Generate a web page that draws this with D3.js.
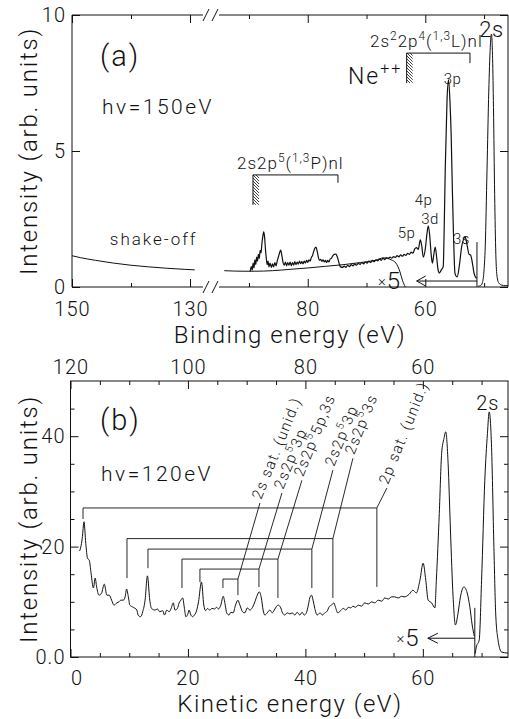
<!DOCTYPE html>
<html>
<head>
<meta charset="utf-8">
<script src="https://cdn.jsdelivr.net/npm/d3@7"></script>
<style>
body{margin:0;background:#fff}
text{font-family:Roboto,"Liberation Sans",Arial,sans-serif;font-weight:300;fill:#111}
</style>
</head>
<body>
<script>
// ---- panel (a) data : binding energy (eV), intensity ----
var shakeOffA=[[150,1.15],[148.6,1.08],[146,0.98],[143,0.88],[140,0.8],[137,0.74],[134,0.69],[131,0.65],[129.2,0.63]]
var backgroundA=[[94.2,0.6],[91,0.58],[89,0.58],[86,0.6],[83,0.65],[80,0.7],[77,0.76],[74,0.82],[71,0.9],[68.5,0.98],[67.1,1.07],[65.8,1.0],[65.0,0.88],[64.3,0.55],[63.9,0.25],[63.4,0.0]]
var satA=[[89.8,0.57],[89.6,0.75],[89.45,0.62],[89.3,0.88],[89.15,0.7],[89.0,1.0],[88.85,0.82],[88.7,1.1],[88.55,0.95],[88.4,1.2],[88.25,1.05],[88.1,1.35],[87.95,1.25],[87.8,1.6],[87.65,1.85],[87.5,2.03],[87.35,1.85],[87.2,1.4],[87.05,1.05],[86.9,0.82],[86.75,0.95],[86.6,0.74],[86.4,0.88],[86.2,0.72],[86.0,0.85],[85.8,0.74],[85.6,0.9],[85.4,0.78],[85.2,0.95],[85.0,1.1],[84.8,1.25],[84.6,1.36],[84.4,1.15],[84.2,0.9],[84.0,0.8],[83.8,0.92],[83.6,0.78],[83.4,0.9],[83.2,0.8],[83.0,0.92],[82.8,0.78],[82.6,0.9],[82.4,0.8],[82.2,0.93],[82.0,0.82],[81.8,0.92],[81.6,0.84],[81.4,0.95],[81.2,0.86],[81.0,0.93],[80.8,0.85],[80.6,0.95],[80.4,0.88],[80.2,0.98],[80.0,0.9],[79.8,1.0],[79.6,0.95],[79.4,1.08],[79.2,1.15],[79.0,1.3],[78.8,1.42],[78.6,1.47],[78.4,1.32],[78.2,1.1],[78.0,0.98],[77.8,1.02],[77.6,0.94],[77.4,1.0],[77.2,0.92],[77.0,0.98],[76.8,0.9],[76.6,0.98],[76.4,0.92],[76.2,1.02],[76.0,1.05],[75.8,1.12],[75.5,1.2],[75.2,1.21],[75.0,1.12],[74.8,0.98],[74.6,0.82],[74.4,0.74],[74.1,0.72],[73.8,0.77],[73.5,0.72],[73.2,0.8],[72.9,0.75],[72.6,0.82],[72.3,0.78],[72.0,0.85],[71.7,0.8],[71.4,0.87],[71.1,0.83],[70.8,0.9],[70.5,0.85],[70.2,0.92],[69.9,0.88],[69.6,0.95],[69.3,0.9],[69.0,0.98],[68.7,0.93],[68.4,1.0],[68.1,0.96],[67.8,1.03],[67.5,0.98],[67.2,1.06],[66.9,1.01],[66.6,1.08],[66.3,1.05],[66.0,1.1],[65.7,1.06],[65.4,1.12],[65.1,1.09],[64.8,1.15],[64.5,1.11],[64.2,1.18],[63.9,1.13],[63.6,1.2],[63.3,1.16],[63.0,1.24],[62.7,1.2],[62.4,1.28],[62.1,1.24],[61.8,1.4],[61.5,1.45],[61.2,1.38],[60.85,1.73],[60.6,1.5],[60.34,1.1],[60.0,1.4],[59.75,1.9],[59.5,2.25],[59.25,1.9],[59.0,1.2],[58.8,0.88],[58.55,1.2],[58.31,1.47],[58.05,1.05],[57.8,0.6],[57.6,0.51],[57.3,0.62],[56.95,0.75],[56.8,2.0],[56.6,4.4],[56.3,6.9],[56.05,7.62],[55.8,6.8],[55.6,5.6],[55.4,3.6],[55.2,1.9],[54.95,0.5],[54.58,0.37],[54.2,0.8],[53.8,1.5],[53.5,1.75],[53.22,1.84],[52.9,1.55],[52.55,1.2],[52.3,1.18],[52.0,0.9],[51.7,0.5],[51.5,0.38],[51.25,0.32]]
var peak2sA=[[51.0,0.03],[50.6,0.05],[50.3,0.15],[50.05,0.5],[49.8,1.5],[49.5,4.3],[49.2,7.2],[48.95,8.8],[48.75,9.3],[48.55,8.4],[48.4,6.6],[48.2,3.4],[48.0,1.2],[47.8,0.4],[47.5,0.15],[47.0,0.07],[46.4,0.05],[45.95,0.05]]
var peakLabelsA=[{t:"2s",e:48.74,v:9.2,fs:22},{t:"3p",e:55.38,v:7.47,fs:15},{t:"4p",e:60.31,v:3.02,fs:15},{t:"3d",e:59.2,v:2.32,fs:15},{t:"5p",e:63.2,v:1.8,fs:15},{t:"3s",e:53.84,v:1.58,fs:15}]
// thresholds with brackets: start, end, level, end tick, hatch bottom, text pos
var seriesA=[
	{lo:89.32,hi:74.86,h:4.12,tick:3.83,hatch:3.02,te:92.04,tv:4.34,label:"2s2p{5}({1,3}P)nl"},
	{lo:63.17,hi:52.4,h:8.6,tick:8.23,hatch:7.5,te:69.41,tv:8.83,label:"2s{2}2p{4}({1,3}L)nl"}
]
var x5A={line:51.21,top:1.65,tip:61.47,v:0.22,text:66.18}

// ---- panel (b) data : kinetic energy (eV), intensity ----
var satB=[[1.55,19.2],[1.75,19.9],[2.0,21.5],[2.3,24.5],[2.6,20.6],[2.9,17.9],[3.2,17.5],[3.5,15.2],[3.9,12.5],[4.2,14.3],[4.45,12.7],[4.85,11.2],[5.3,11.6],[5.75,13.2],[6.2,11.2],[6.6,11.2],[7.0,10.3],[7.4,9.4],[7.9,9.8],[8.25,10.0],[8.6,10.3],[9.0,10.3],[9.3,10.9],[9.55,12.3],[9.85,10.9],[10.1,9.4],[10.7,9.0],[11.3,8.5],[11.5,7.6],[11.95,7.3],[12.3,8.2],[12.7,10.3],[13.1,14.7],[13.5,10.3],[13.8,8.8],[14.4,8.5],[14.8,8.7],[15.2,8.2],[15.7,8.4],[16.0,7.6],[16.4,8.5],[16.8,8.2],[17.1,8.7],[17.5,9.8],[17.8,8.5],[18.2,8.8],[18.5,9.8],[18.8,10.3],[19.1,10.7],[19.4,8.8],[19.65,7.3],[19.95,7.7],[20.2,8.5],[20.5,7.6],[20.8,7.3],[21.1,7.6],[21.5,8.5],[21.8,10.0],[22.3,13.6],[22.7,9.4],[23.0,8.4],[23.35,8.8],[23.7,8.5],[24.1,8.8],[24.5,8.7],[24.9,9.0],[25.2,8.7],[25.6,9.4],[26.0,11.0],[26.35,9.4],[26.6,8.0],[27.0,7.6],[27.3,8.1],[27.7,8.0],[28.1,9.4],[28.5,10.3],[28.85,9.4],[29.3,8.2],[29.7,8.0],[30.1,8.9],[30.55,8.5],[31.0,9.0],[31.4,10.0],[31.8,11.2],[32.15,11.8],[32.5,10.7],[32.8,8.5],[33.1,7.6],[33.5,8.0],[33.95,8.5],[34.35,8.0],[34.7,8.5],[35.1,9.2],[35.4,9.4],[35.8,8.9],[36.1,8.0],[36.5,7.6],[36.9,8.0],[37.35,7.8],[37.75,8.0],[38.2,7.6],[38.6,8.1],[39.05,7.6],[39.45,8.1],[39.8,7.6],[40.2,8.1],[40.5,9.4],[40.75,10.7],[41.05,11.2],[41.3,10.3],[41.6,8.8],[42.0,7.6],[42.5,8.0],[42.9,7.6],[43.3,8.0],[43.7,8.3],[44.05,9.1],[44.45,9.4],[44.85,9.8],[45.1,9.1],[45.5,8.0],[45.9,8.3],[46.45,8.8],[46.9,8.5],[47.3,9.0],[47.7,8.9],[48.1,9.2],[48.55,9.0],[49.0,9.4],[49.55,9.2],[50.1,9.8],[50.7,9.6],[51.3,10.0],[51.8,9.8],[52.4,10.3],[53.0,10.1],[53.5,10.7],[54.1,10.5],[54.7,10.9],[55.2,10.9],[55.8,10.7],[56.4,11.0],[56.8,10.9],[57.2,11.0],[57.7,11.4],[58.3,12.1],[58.9,11.6],[59.5,13.9],[60.05,17.0],[60.5,13.9],[60.9,10.3],[61.5,9.8],[62.05,8.9],[62.3,13.9],[62.8,26.0],[63.2,36.9],[63.6,39.6],[63.9,40.8],[64.3,35.1],[64.7,23.0],[65.15,10.9],[65.55,5.8],[66.0,8.0],[66.4,10.9],[67.0,12.7],[67.55,11.6],[68.0,9.1],[68.4,5.8],[68.75,3.8]]
var peak2sB=[[68.9,0.6],[69.1,1.8],[69.6,3.1],[70.0,13.9],[70.55,32.0],[71.0,40.5],[71.3,44.4],[71.7,38.0],[72.1,19.9],[72.4,8.0],[72.8,3.1],[73.4,0.9],[74.5,0.7]]
// brackets: left peak, right peak, bar level, drop ends, leader tip, label
var bracketsB=[
	{lo:2.13,hi:52.17,h:27.0,loEnd:25.0,hiEnd:12.7,tipE:53.87,tipV:30.6,label:"2p sat. (unid.)"},
	{lo:9.62,hi:44.68,h:21.45,loEnd:14.3,hiEnd:10.7,tipE:48.09,tipV:36.0,label:"2s2p{5}3s"},
	{lo:13.19,hi:41.1,h:19.55,loEnd:16.1,hiEnd:12.5,tipE:44.68,tipV:33.85,label:"2s2p{5}3p"},
	{lo:18.98,hi:35.32,h:17.74,loEnd:12.5,hiEnd:10.7,tipE:39.4,tipV:32.0,label:"2s2p{5}5p,3s"},
	{lo:22.04,hi:32.09,h:15.93,loEnd:13.57,hiEnd:12.67,tipE:36.0,tipV:29.7,label:"2s2p{5}3p"},
	{lo:25.96,hi:28.51,h:14.12,loEnd:12.5,hiEnd:11.2,tipE:32.26,tipV:27.9,label:"2s sat. (unid.)"}
]
var x5B={line:68.85,top:8.9,tip:60.85,v:3.4,text:57.4}
var label2sB={e:71.06,v:44.7}

// ---- ticks ----
var aMajorL=[150,130], aMinorL=[140]
var aMajorR=[80,60], aMinorR=[90,70,50]
var aY=[0,5,10]
var bKinMajor=[0,20,40,60], bKinMinor=[5,10,15,25,30,35,45,50,55,65,70]
var bBindMajor=[120,100,80,60], bBindMinor=[115,110,105,95,90,85,75,70,65,55,50]
var bYMajor=[0,20,40], bYMinor=[5,10,15,25,30,35,45]

const svg=d3.select("body").append("svg").attr("width",509).attr("height",719)

const defs=svg.append("defs")
defs.append("pattern").attr("id","hatch").attr("patternUnits","userSpaceOnUse").attr("width",3).attr("height",3)
	.append("path").attr("d","M-1,-1L4,4M-1,2L1,4M2,-1L4,1").attr("stroke","#111").attr("stroke-width",0.8)

// scales
const ya=d3.scaleLinear().domain([0,10]).range([287,15])
const xaL=d3.scaleLinear().domain([150,127.8]).range([72,203])
const xaR=d3.scaleLinear().domain([95.1,45.93]).range([219,508])
const xb=d3.scaleLinear().domain([0,74.5]).range([70.5,508])
const xbB=d3.scaleLinear().domain([120,45.5]).range([70.5,508])
const yb=d3.scaleLinear().domain([0,50]).range([657,381])

function axisG(gen,scale,vals,len,fmt,pad,tx,ty){
	const g=svg.append("g").attr("transform","translate("+tx+","+ty+")")
	g.call(gen(scale).tickValues(vals).tickSize(-len).tickPadding(pad).tickFormat(fmt))
	g.attr("font-family",null).attr("font-size",null)
	g.select(".domain").remove()
	g.selectAll(".tick line").attr("stroke","#111")
	g.selectAll(".tick text").attr("font-size",20).attr("letter-spacing",1).attr("fill","#111")
	return g
}
const none=()=>""
const num=d=>d

// rich text with {superscript}
function rich(g,str,fs,x,y){
	const t=g.append("text").attr("x",x).attr("y",y).attr("font-size",fs)
	let up=false
	str.split(/(\{[^}]*\})/).filter(s=>s.length).forEach(s=>{
		const sp=t.append("tspan")
		if(s[0]=="{"){
			sp.text(s.slice(1,-1)).attr("font-size",fs*0.7)
			if(!up){sp.attr("dy",-fs*0.42);up=true}
		}else{
			sp.text(s)
			if(up){sp.attr("dy",fs*0.42);up=false}
		}
	})
	return t
}

function times5(g,x,y){
	const t=g.append("text").attr("x",x).attr("y",y).attr("text-anchor","middle").attr("dominant-baseline","central")
	t.append("tspan").text("\u00d7").attr("font-size",15)
	t.append("tspan").text("5").attr("font-size",24).attr("dx",1)
}

// ================= panel (a) =================
const pa=svg.append("g")

// axes
axisG(d3.axisBottom,xaL,aMajorL,8,num,15,0,287)
axisG(d3.axisBottom,xaL,aMinorL,4,none,15,0,287)
axisG(d3.axisBottom,xaR,aMajorR,8,num,15,0,287)
axisG(d3.axisBottom,xaR,aMinorR,4,none,15,0,287)
axisG(d3.axisTop,xaL,aMajorL,8,none,5,0,15)
axisG(d3.axisTop,xaL,aMinorL,4,none,5,0,15)
axisG(d3.axisTop,xaR,aMajorR,8,none,5,0,15)
axisG(d3.axisTop,xaR,aMinorR,4,none,5,0,15)
axisG(d3.axisLeft,ya,aY,8,num,6,72,0)
axisG(d3.axisRight,ya,aY,8,none,5,508,0)

// broken frame
pa.append("path").attr("fill","none").attr("stroke","#111").attr("stroke-width",1)
	.attr("d","M203,15H72V287H203M219,287H508V15H219")
;[287,15].forEach(yy=>{
	[206,215].forEach(xx=>{
		pa.append("line").attr("x1",xx-3).attr("y1",yy+6).attr("x2",xx+3).attr("y2",yy-6).attr("stroke","#111")
	})
})

const lineAL=d3.line().x(d=>xaL(d[0])).y(d=>ya(d[1])).curve(d3.curveMonotoneX)
const lineAR=d3.line().x(d=>xaR(d[0])).y(d=>ya(d[1])).curve(d3.curveMonotoneX)

pa.append("path").attr("d",lineAL(shakeOffA)).attr("fill","none").attr("stroke","#111").attr("stroke-width",1)
pa.append("path").attr("d",lineAR(backgroundA)).attr("fill","none").attr("stroke","#111").attr("stroke-width",1)
pa.append("path").attr("d",lineAR(satA)).attr("fill","none").attr("stroke","#111").attr("stroke-width",1.2)
pa.append("path").attr("d",lineAR(peak2sA)).attr("fill","none").attr("stroke","#111").attr("stroke-width",1)

// x5 marker
pa.append("line").attr("x1",xaR(x5A.line)).attr("x2",xaR(x5A.line)).attr("y1",ya(0)).attr("y2",ya(x5A.top)).attr("stroke","#111")
pa.append("path").attr("fill","none").attr("stroke","#111")
	.attr("d","M"+xaR(x5A.line)+","+ya(x5A.v)+"H"+xaR(x5A.tip)+"M"+(xaR(x5A.tip)+9)+","+(ya(x5A.v)-5)+"L"+xaR(x5A.tip)+","+ya(x5A.v)+"L"+(xaR(x5A.tip)+9)+","+(ya(x5A.v)+5))
times5(pa,xaR(x5A.text),ya(x5A.v))

// threshold brackets
seriesA.forEach(s=>{
	pa.append("rect").attr("x",xaR(s.lo)).attr("y",ya(s.h)).attr("width",6).attr("height",ya(s.hatch)-ya(s.h)).attr("fill","url(#hatch)")
	pa.append("path").attr("fill","none").attr("stroke","#111")
		.attr("d","M"+xaR(s.lo)+","+ya(s.hatch)+"V"+ya(s.h)+"H"+xaR(s.hi)+"V"+ya(s.tick))
	rich(pa,s.label,17,xaR(s.te),ya(s.tv)).attr("letter-spacing",1)
})
rich(pa,"Ne{++}",23,xaR(73.15),ya(7.47)).attr("letter-spacing",2)

peakLabelsA.forEach(p=>{
	pa.append("text").attr("x",xaR(p.e)).attr("y",ya(p.v)).attr("text-anchor","middle").attr("font-size",p.fs).attr("letter-spacing",0.5).text(p.t)
})
pa.append("text").attr("x",xaL(143.6)).attr("y",ya(1.55)).attr("font-size",17).attr("letter-spacing",2).text("shake-off")

pa.append("text").attr("x",100).attr("y",66).attr("font-size",29).attr("letter-spacing",2).text("(a)")
pa.append("text").attr("x",102).attr("y",114).attr("font-size",21).attr("letter-spacing",2.5).text("h\u03bd=150eV")

pa.append("text").attr("x",290).attr("y",343).attr("text-anchor","middle").attr("font-size",24).attr("letter-spacing",1.5).text("Binding energy (eV)")
pa.append("text").attr("transform","translate(37,151) rotate(-90)").attr("text-anchor","middle").attr("font-size",24).attr("letter-spacing",1.8).text("Intensity (arb. units)")

// ================= panel (b) =================
const pb=svg.append("g")

axisG(d3.axisBottom,xb,bKinMajor,8,num,14,0,657).selectAll(".tick text").attr("dx",d=>d==0?6:0)
axisG(d3.axisBottom,xb,bKinMinor,4,none,14,0,657)
axisG(d3.axisTop,xbB,bBindMajor,8,num,7,0,381)
axisG(d3.axisTop,xbB,bBindMinor,4,none,7,0,381)
axisG(d3.axisLeft,yb,bYMajor,8,d=>d==0?"0.0":d,5,70.5,0)
axisG(d3.axisLeft,yb,bYMinor,4,none,5,70.5,0)
axisG(d3.axisRight,yb,bYMajor,8,none,5,508,0)
axisG(d3.axisRight,yb,bYMinor,4,none,5,508,0)

pb.append("rect").attr("x",70.5).attr("y",381).attr("width",508-70.5).attr("height",657-381).attr("fill","none").attr("stroke","#111")

const lineB=d3.line().x(d=>xb(d[0])).y(d=>yb(d[1])).curve(d3.curveMonotoneX)
pb.append("path").attr("d",lineB(satB)).attr("fill","none").attr("stroke","#111").attr("stroke-width",1)
pb.append("path").attr("d",lineB(peak2sB)).attr("fill","none").attr("stroke","#111").attr("stroke-width",1)

pb.append("line").attr("x1",xb(x5B.line)).attr("x2",xb(x5B.line)).attr("y1",yb(0)).attr("y2",yb(x5B.top)).attr("stroke","#111")
pb.append("path").attr("fill","none").attr("stroke","#111")
	.attr("d","M"+xb(x5B.line)+","+yb(x5B.v)+"H"+xb(x5B.tip)+"M"+(xb(x5B.tip)+10)+","+(yb(x5B.v)-5)+"L"+xb(x5B.tip)+","+yb(x5B.v)+"L"+(xb(x5B.tip)+10)+","+(yb(x5B.v)+5))
times5(pb,xb(x5B.text),yb(x5B.v))

bracketsB.forEach(b=>{
	pb.append("path").attr("fill","none").attr("stroke","#111").attr("stroke-width",0.9)
		.attr("d","M"+xb(b.lo)+","+yb(b.loEnd)+"V"+yb(b.h)+"H"+xb(b.hi)+"V"+yb(b.hiEnd)+"M"+xb(b.hi)+","+yb(b.h)+"L"+xb(b.tipE)+","+yb(b.tipV))
	const g=pb.append("g").attr("transform","translate("+xb(b.tipE)+","+yb(b.tipV)+") rotate(-68)")
	rich(g,b.label,15,3,0).attr("letter-spacing",1.3)
})

pb.append("text").attr("x",xb(label2sB.e)).attr("y",yb(label2sB.v)).attr("text-anchor","middle").attr("font-size",20).attr("letter-spacing",1).text("2s")

pb.append("text").attr("x",100).attr("y",430).attr("font-size",29).attr("letter-spacing",2).text("(b)")
pb.append("text").attr("x",101).attr("y",481).attr("font-size",21).attr("letter-spacing",2.5).text("h\u03bd=120eV")

pb.append("text").attr("x",290).attr("y",712).attr("text-anchor","middle").attr("font-size",24).attr("letter-spacing",1.5).text("Kinetic energy (eV)")
pb.append("text").attr("transform","translate(37,519) rotate(-90)").attr("text-anchor","middle").attr("font-size",24).attr("letter-spacing",1.8).text("Intensity (arb. units)")
</script>
</body>
</html>
